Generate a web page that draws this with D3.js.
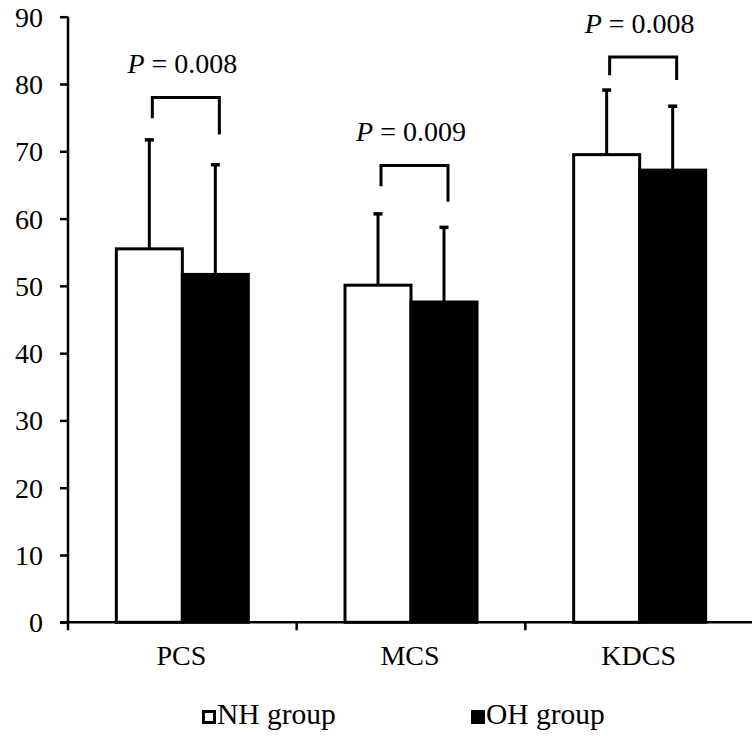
<!DOCTYPE html>
<html><head><meta charset="utf-8">
<script src="https://cdn.jsdelivr.net/npm/d3@7"></script>
<style>body{margin:0;background:#fff}svg{display:block}text{font-family:"Liberation Serif","Times New Roman",serif;fill:#000}</style>
</head><body>
<script>
const categories = ["PCS", "MCS", "KDCS"];
const nhMean = [55.5, 50.1, 69.5];
const nhSD = [16.2, 10.6, 9.6];
const ohMean = [51.7, 47.6, 67.2];
const ohSD = [16.3, 11.1, 9.5];
const pLabels = ["0.008", "0.009", "0.008"];
const bracketTop = [78.0, 67.9, 84.0];
const bracketLeftEnd = [74.9, 64.8, 81.3];
const bracketRightEnd = [72.5, 62.5, 80.6];
const yTicks = [0, 10, 20, 30, 40, 50, 60, 70, 80, 90];
const seriesNames = ["NH group", "OH group"];

const W = 752, H = 738;
const svg = d3.select("body").append("svg").attr("width", W).attr("height", H);

const y = d3.scaleLinear().domain([0, 90]).range([622.3, 16.7]);
const x = d3.scaleBand().domain(categories).range([68, 754]).padding(0);
const barW = 66;

// y axis
const yAxis = d3.axisLeft(y).tickValues(yTicks).tickSize(8).tickPadding(17).tickFormat(d3.format("d"));
const gy = svg.append("g").attr("transform", "translate(68,0)").call(yAxis);
gy.select(".domain").attr("stroke", "#000").attr("stroke-width", 2.5).attr("d", `M0,${y(90)}V${y(0) + 8}`);
gy.selectAll(".tick line").attr("stroke", "#000").attr("stroke-width", 2.5);
gy.selectAll(".tick text").attr("font-size", 28).attr("font-family", "Liberation Serif").attr("dy", "0.34em");

// x axis
svg.append("line").attr("x1", 60).attr("x2", W).attr("y1", y(0)).attr("y2", y(0))
  .attr("stroke", "#000").attr("stroke-width", 2.5);
categories.slice(1).forEach(c => {
  svg.append("line").attr("x1", x(c)).attr("x2", x(c)).attr("y1", y(0)).attr("y2", y(0) + 8)
    .attr("stroke", "#000").attr("stroke-width", 2.5);
});
svg.selectAll("text.xl").data(categories).enter().append("text")
  .attr("x", d => x(d) + x.bandwidth() / 2 - 1).attr("y", 665)
  .attr("text-anchor", "middle").attr("font-size", 28).text(d => d);

const cx = d => x(d) + x.bandwidth() / 2;

// error bars (upward)
function errBar(mean, sd, off) {
  categories.forEach((c, i) => {
    const xc = cx(c) + off;
    svg.append("line").attr("x1", xc).attr("x2", xc).attr("y1", y(mean[i])).attr("y2", y(mean[i] + sd[i]))
      .attr("stroke", "#000").attr("stroke-width", 3);
    svg.append("line").attr("x1", xc - 4.5).attr("x2", xc + 4.5).attr("y1", y(mean[i] + sd[i])).attr("y2", y(mean[i] + sd[i]))
      .attr("stroke", "#000").attr("stroke-width", 3.5);
  });
}
errBar(nhMean, nhSD, -barW / 2);
errBar(ohMean, ohSD, barW / 2);

// bars
svg.selectAll("rect.nh").data(categories).enter().append("rect")
  .attr("x", d => cx(d) - barW).attr("width", barW)
  .attr("y", (d, i) => y(nhMean[i])).attr("height", (d, i) => y(0) - y(nhMean[i]))
  .attr("fill", "#fff").attr("stroke", "#000").attr("stroke-width", 3);
svg.selectAll("rect.oh").data(categories).enter().append("rect")
  .attr("x", d => cx(d)).attr("width", barW)
  .attr("y", (d, i) => y(ohMean[i])).attr("height", (d, i) => y(0) - y(ohMean[i]))
  .attr("fill", "#000").attr("stroke", "#000").attr("stroke-width", 3);

// brackets and P labels
categories.forEach((c, i) => {
  const xl = cx(c) - barW / 2 + 3, xr = cx(c) + barW / 2 + 4;
  const p = `M${xl},${y(bracketLeftEnd[i])}V${y(bracketTop[i])}H${xr}V${y(bracketRightEnd[i])}`;
  svg.append("path").attr("d", p).attr("fill", "none").attr("stroke", "#000").attr("stroke-width", 3);
  const t = svg.append("text").attr("x", cx(c)).attr("y", y(bracketTop[i]) - 24)
    .attr("text-anchor", "middle").attr("font-size", 28);
  t.append("tspan").attr("font-style", "italic").text("P");
  t.append("tspan").text(" = " + pLabels[i]);
});

// legend
const leg = [{x: 202, fill: "#fff"}, {x: 471, fill: "#000"}];
leg.forEach((l, i) => {
  svg.append("rect").attr("x", l.x + 1.5).attr("y", 711.5).attr("width", 11).attr("height", 11)
    .attr("fill", l.fill).attr("stroke", "#000").attr("stroke-width", 3);
  svg.append("text").attr("x", l.x + 15).attr("y", 724).attr("font-size", 29.5).text(seriesNames[i]);
});
</script>
</body></html>
